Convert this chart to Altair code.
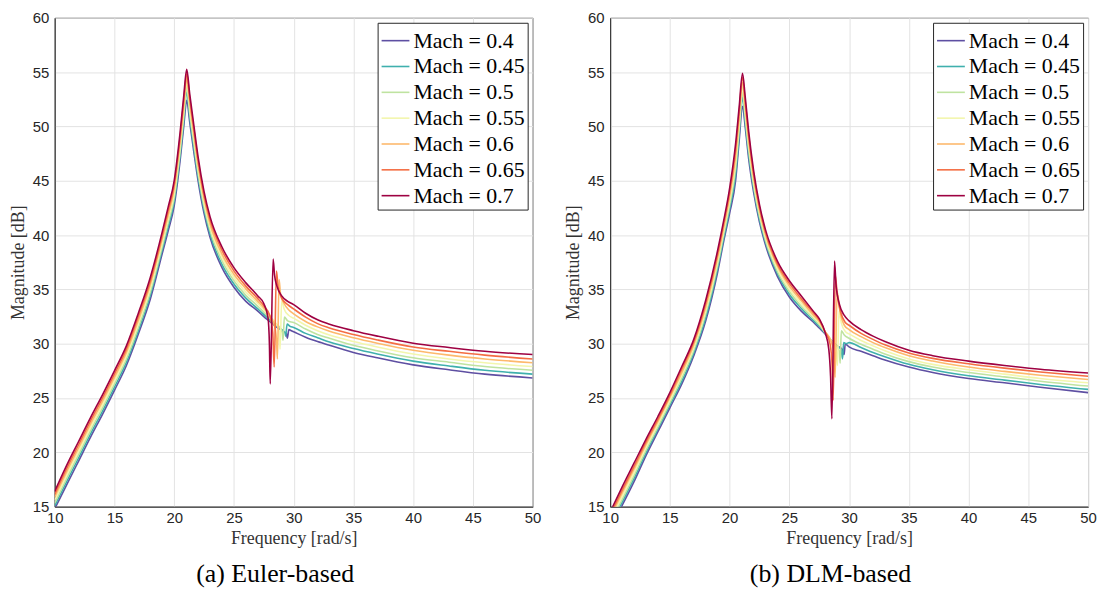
import altair as alt
import pandas as pd

MACH = [0.4, 0.45, 0.5, 0.55, 0.6, 0.65, 0.7]
LABELS = ["Mach = 0.4", "Mach = 0.45", "Mach = 0.5", "Mach = 0.55",
          "Mach = 0.6", "Mach = 0.65", "Mach = 0.7"]
COLORS = ["#5e4fa2", "#3fb0ad", "#bfe3a0", "#f3f6ad", "#fdb96c", "#f46d43", "#9e0142"]

# ---------------- (a) Euler-based ----------------
EU_F_BASE = [10, 11, 12, 13, 14, 15, 16, 17, 18, 19, 19.5, 20, 20.5, 20.8, 21.05,
             21.3, 21.6, 22, 22.5, 23, 24, 25, 26, 27]
EU_BASE = {
    0.4:  [14.8, 17.0, 19.2, 21.4, 23.5, 25.7, 28.0, 30.9, 34.1, 38.3, 40.4, 42.7, 46.9, 50.0, 52.4,
           50.4, 48.0, 45.0, 42.0, 39.8, 37.0, 35.2, 33.9, 33.0],
    0.45: [15.07, 17.3, 19.5, 21.7, 23.8, 26.0, 28.3, 31.2, 34.45, 38.65, 40.75, 43.1, 47.35, 50.45, 53.2,
           50.85, 48.4, 45.35, 42.35, 40.1, 37.3, 35.5, 34.2, 33.2],
    0.5:  [15.33, 17.6, 19.8, 22.0, 24.1, 26.3, 28.6, 31.5, 34.75, 38.95, 41.15, 43.45, 47.75, 50.95, 53.6,
           51.25, 48.85, 45.75, 42.65, 40.45, 37.65, 35.8, 34.45, 33.45],
    0.55: [15.6, 17.9, 20.1, 22.3, 24.4, 26.6, 28.9, 31.85, 35.1, 39.3, 41.5, 43.85, 48.2, 51.4, 54.0,
           51.7, 49.25, 46.1, 43.0, 40.75, 37.95, 36.1, 34.75, 33.7],
    0.6:  [15.87, 18.2, 20.4, 22.6, 24.7, 26.9, 29.2, 32.15, 35.45, 39.65, 41.85, 44.25, 48.65, 51.85, 54.4,
           52.15, 49.65, 46.45, 43.35, 41.05, 38.25, 36.4, 35.05, 33.9],
    0.65: [16.13, 18.5, 20.7, 22.9, 25.0, 27.2, 29.5, 32.5, 35.75, 39.95, 42.25, 44.6, 49.05, 52.35, 54.85,
           52.55, 50.1, 46.85, 43.65, 41.4, 38.6, 36.7, 35.3, 34.15],
    0.7:  [16.4, 18.8, 21.0, 23.2, 25.3, 27.5, 29.8, 32.8, 36.1, 40.3, 42.6, 45.0, 49.5, 52.8, 55.25,
           53.0, 50.5, 47.2, 44.0, 41.7, 38.9, 37.0, 35.6, 34.4],
}
EU_RES_F = {
    0.4:  [27.5, 28.0, 28.5, 29.0, 29.4, 29.47, 29.6, 29.8],
    0.45: [27.5, 28.0, 28.5, 29.0, 29.28, 29.33, 29.45, 29.7],
    0.5:  [27.5, 28.0, 28.5, 28.9, 29.05, 29.11, 29.22, 29.5],
    0.55: [27.5, 28.0, 28.5, 28.78, 28.86, 29.0, 29.2, 29.6],
    0.6:  [27.5, 28.0, 28.45, 28.57, 28.64, 28.78, 28.9, 29.2, 29.6],
    0.65: [27.5, 28.0, 28.25, 28.37, 28.56, 28.7, 29.0, 29.5],
    0.7:  [27.5, 27.85, 27.97, 28.04, 28.28, 28.4, 28.6, 29.0, 29.5],
}
EU_RES_DB = {
    0.4:  [32.5, 32.05, 31.6, 31.2, 30.9, 30.5, 31.3, 31.2],
    0.45: [32.7, 32.2, 31.75, 31.3, 31.0, 30.7, 31.8, 31.6],
    0.5:  [32.9, 32.35, 31.85, 31.4, 31.0, 30.3, 32.45, 32.1],
    0.55: [33.1, 32.5, 31.9, 31.2, 29.5, 34.0, 33.2, 32.6],
    0.6:  [33.3, 32.6, 31.4, 30.2, 28.6, 35.9, 34.6, 33.7, 33.1],
    0.65: [33.5, 32.6, 31.0, 27.85, 36.7, 35.2, 34.2, 33.6],
    0.7:  [33.7, 32.4, 30.0, 26.3, 37.8, 36.3, 35.3, 34.4, 33.9],
}
EU_F_TAIL = [30, 31, 32, 33, 35, 37, 40, 43, 46, 50]
EU_TAIL = {
    0.4:  [31.1, 30.6, 30.2, 29.85, 29.2, 28.7, 28.05, 27.6, 27.2, 26.85],
    0.45: [31.5, 30.95, 30.55, 30.15, 29.55, 29.05, 28.4, 27.95, 27.55, 27.2],
    0.5:  [31.95, 31.35, 30.85, 30.5, 29.85, 29.35, 28.7, 28.3, 27.9, 27.55],
    0.55: [32.35, 31.7, 31.2, 30.8, 30.2, 29.7, 29.05, 28.6, 28.25, 27.9],
    0.6:  [32.75, 32.05, 31.55, 31.15, 30.55, 30.05, 29.4, 28.95, 28.6, 28.25],
    0.65: [33.2, 32.45, 31.85, 31.45, 30.85, 30.35, 29.7, 29.3, 28.95, 28.6],
    0.7:  [33.6, 32.8, 32.2, 31.8, 31.2, 30.7, 30.05, 29.65, 29.3, 29.0],
}

# ---------------- (b) DLM-based ----------------
DL_F_BASE = [10, 11, 12, 13, 14, 15, 16, 17, 18, 19, 19.5, 20, 20.5, 20.8, 21.08,
             21.3, 21.6, 22, 22.5, 23, 24, 25, 26, 27]
DL_BASE = {
    0.4:  [13.0, 15.1, 17.3, 19.7, 21.9, 24.1, 26.3, 28.9, 32.1, 36.6, 39.4, 42.0, 45.0, 48.7, 51.85,
           50.0, 47.0, 44.0, 41.2, 39.1, 36.2, 34.3, 33.0, 32.0],
    0.45: [13.25, 15.4, 17.6, 19.95, 22.15, 24.35, 26.55, 29.15, 32.4, 36.95, 39.7, 42.4, 45.55, 49.2, 52.7,
           50.45, 47.4, 44.35, 41.45, 39.35, 36.45, 34.55, 33.25, 32.15],
    0.5:  [13.5, 15.65, 17.85, 20.2, 22.35, 24.55, 26.85, 29.4, 32.75, 37.25, 40.05, 42.75, 46.15, 49.75, 53.15,
           50.95, 47.85, 44.65, 41.75, 39.55, 36.65, 34.8, 33.45, 32.35],
    0.55: [13.75, 15.95, 18.15, 20.45, 22.6, 24.8, 27.1, 29.65, 33.05, 37.6, 40.35, 43.15, 46.7, 50.25, 53.6,
           51.4, 48.25, 45.0, 42.0, 39.8, 36.9, 35.05, 33.7, 32.5],
    0.6:  [14.0, 16.25, 18.45, 20.7, 22.85, 25.05, 27.35, 29.9, 33.35, 37.95, 40.65, 43.55, 47.25, 50.75, 54.05,
           51.85, 48.65, 45.35, 42.25, 40.05, 37.15, 35.3, 33.95, 32.65],
    0.65: [14.25, 16.5, 18.7, 20.95, 23.05, 25.25, 27.65, 30.15, 33.7, 38.25, 41.0, 43.9, 47.85, 51.3, 54.5,
           52.35, 49.1, 45.65, 42.55, 40.25, 37.35, 35.55, 34.15, 32.85],
    0.7:  [14.5, 16.8, 19.0, 21.2, 23.3, 25.5, 27.9, 30.4, 34.0, 38.6, 41.3, 44.3, 48.4, 51.8, 54.9,
           52.8, 49.5, 46.0, 42.8, 40.5, 37.6, 35.8, 34.4, 33.0],
}
DL_RES_F = {
    0.4:  [27.5, 28.0, 28.5, 29.0, 29.45, 29.58, 29.68, 29.85],
    0.45: [27.5, 28.0, 28.5, 29.0, 29.35, 29.45, 29.55, 29.75],
    0.5:  [27.5, 28.0, 28.5, 29.0, 29.18, 29.25, 29.35, 29.6],
    0.55: [27.5, 28.0, 28.5, 28.9, 29.03, 29.15, 29.35, 29.7],
    0.6:  [27.5, 28.0, 28.5, 28.75, 28.83, 29.0, 29.2, 29.6],
    0.65: [27.5, 28.0, 28.4, 28.58, 28.67, 28.85, 29.0, 29.3, 29.65],
    0.7:  [27.5, 28.0, 28.3, 28.45, 28.56, 28.78, 28.9, 29.2, 29.6],
}
DL_RES_DB = {
    0.4:  [31.45, 30.9, 30.3, 29.8, 29.45, 29.0, 30.0, 29.85],
    0.45: [31.6, 30.95, 30.3, 29.8, 29.4, 28.6, 30.1, 30.0],
    0.5:  [31.75, 31.0, 30.3, 29.7, 29.3, 28.2, 31.2, 30.8],
    0.55: [31.9, 31.05, 30.3, 29.6, 28.0, 33.0, 31.9, 31.1],
    0.6:  [32.05, 31.1, 30.2, 29.0, 26.9, 34.8, 33.2, 31.7],
    0.65: [32.2, 31.1, 30.0, 28.0, 24.8, 36.3, 34.6, 32.9, 32.0],
    0.7:  [32.3, 31.0, 29.5, 27.0, 23.1, 37.6, 35.5, 33.6, 32.6],
}
DL_F_TAIL = [30, 31, 32, 33, 35, 37, 40, 43, 46, 50]
DL_TAIL = {
    0.4:  [29.7, 29.3, 28.9, 28.5, 27.85, 27.35, 26.8, 26.4, 26.0, 25.5],
    0.45: [30.1, 29.65, 29.2, 28.8, 28.1, 27.6, 27.05, 26.65, 26.25, 25.8],
    0.5:  [30.5, 29.95, 29.5, 29.05, 28.35, 27.85, 27.35, 26.95, 26.55, 26.1],
    0.55: [30.9, 30.3, 29.8, 29.35, 28.6, 28.1, 27.6, 27.2, 26.8, 26.4],
    0.6:  [31.3, 30.65, 30.1, 29.65, 28.9, 28.4, 27.85, 27.45, 27.1, 26.7],
    0.65: [31.7, 30.95, 30.4, 29.9, 29.15, 28.65, 28.15, 27.75, 27.4, 27.0],
    0.7:  [32.1, 31.3, 30.7, 30.2, 29.4, 28.9, 28.4, 28.0, 27.65, 27.3],
}


def build(f_base, base, res_f, res_db, f_tail, tail):
    rows = []
    for m, lab in zip(MACH, LABELS):
        fs = list(f_base) + list(res_f[m]) + list(f_tail)
        ds = list(base[m]) + list(res_db[m]) + list(tail[m])
        for f, d in zip(fs, ds):
            rows.append({"f": f, "db": d, "Mach": lab})
    return pd.DataFrame(rows)


SERIF = "Liberation Serif"
SANS = "Liberation Sans"


def panel(df, caption):
    return alt.Chart(df).mark_line(strokeWidth=1.6, clip=True, interpolate="monotone").encode(
        x=alt.X("f:Q", scale=alt.Scale(domain=[10, 50], nice=False),
                axis=alt.Axis(title="Frequency [rad/s]", values=list(range(10, 55, 5)),
                              titleFont=SERIF, titleFontSize=18, titleFontWeight="normal",
                              titleColor="#333333", titlePadding=4,
                              labelFont=SANS, labelFontSize=15, labelColor="#262626",
                              labelPadding=4, ticks=False, labelFlush=False,
                              domainColor="#262626", gridColor="#e3e3e3")),
        y=alt.Y("db:Q", scale=alt.Scale(domain=[15, 60], nice=False),
                axis=alt.Axis(title="Magnitude [dB]", values=list(range(15, 65, 5)),
                              titleFont=SERIF, titleFontSize=18, titleFontWeight="normal",
                              titleColor="#333333", titlePadding=5,
                              labelFont=SANS, labelFontSize=15, labelColor="#262626",
                              labelPadding=6, ticks=False, labelFlush=False,
                              domainColor="#262626", gridColor="#e3e3e3")),
        color=alt.Color("Mach:N", sort=LABELS,
                        scale=alt.Scale(domain=LABELS, range=COLORS),
                        legend=alt.Legend(title=None, orient="top-right", offset=5,
                                          fillColor="white", strokeColor="#262626",
                                          padding=3, labelFont=SERIF, labelFontSize=22,
                                          labelColor="black", labelOffset=3,
                                          symbolType="stroke", symbolSize=784,
                                          symbolStrokeWidth=1.6, rowPadding=0,
                                          labelLimit=220)),
        order=alt.Order("f:Q"),
    ).properties(
        width=481, height=492,
        title=alt.TitleParams(text=caption, orient="bottom", font=SERIF, fontSize=26,
                              fontWeight="normal", color="black", offset=14,
                              frame="bounds", anchor="middle"),
    )


left = panel(build(EU_F_BASE, EU_BASE, EU_RES_F, EU_RES_DB, EU_F_TAIL, EU_TAIL), "(a)  Euler-based")
right = panel(build(DL_F_BASE, DL_BASE, DL_RES_F, DL_RES_DB, DL_F_TAIL, DL_TAIL), "(b)  DLM-based")

chart = alt.hconcat(left, right, spacing=22).resolve_legend(color="independent").configure_view(
    stroke="#262626", strokeWidth=1
).properties(padding={"left": 0, "top": 0, "right": 0, "bottom": 0}, background="white")

chart.save("out.html", embed_options={"renderer": "svg", "actions": False})
